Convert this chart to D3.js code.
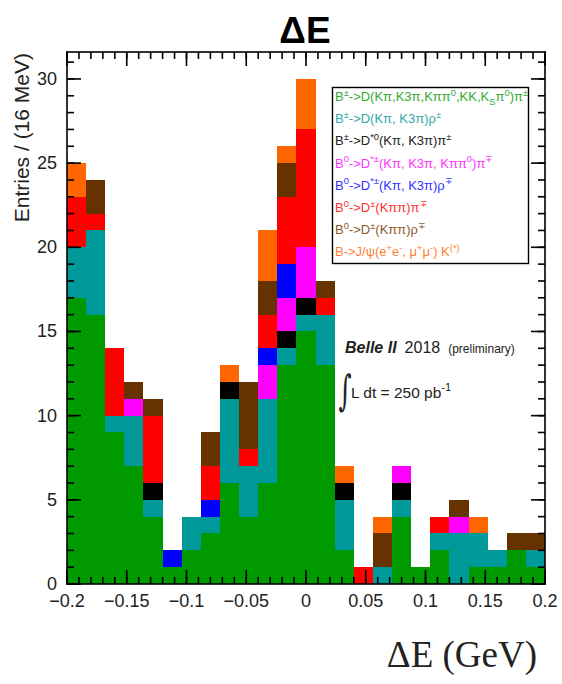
<!DOCTYPE html>
<html>
<head>
<meta charset="utf-8">
<script src="https://cdn.jsdelivr.net/npm/d3@7"></script>
<style>
  body { margin: 0; background: #fff; }
  svg { display: block; }
</style>
</head>
<body>
<svg id="chart"></svg>
<script>
// delta E stacked histogram

// bins: 25 bins of 16 MeV from -0.2 to 0.2 GeV
const binEdges = [-0.2, -0.184, -0.168, -0.152, -0.136, -0.12, -0.104, -0.088, -0.072, -0.056, -0.04, -0.024, -0.008,
    0.008, 0.024, 0.04, 0.056, 0.072, 0.088, 0.104, 0.12, 0.136, 0.152, 0.168, 0.184, 0.2];

// entries per bin, one array per channel (bottom of stack first)
const dKpi     = [17,16, 9, 7, 4, 1, 2, 3, 6, 4, 6,13,15,13, 2, 0, 0, 4, 1, 2, 0, 1, 1, 2, 1];
const dRho     = [ 3, 5, 1, 3, 1, 0, 2, 1, 5, 3, 5, 1, 1, 3, 3, 0, 1, 1, 0, 1, 3, 2, 1, 0, 1];
const dstar0Pi = [ 0, 0, 0, 0, 1, 0, 0, 0, 1, 0, 0, 1, 1, 0, 1, 0, 0, 1, 0, 0, 0, 0, 0, 0, 0];
const dstarPi  = [ 0, 0, 0, 1, 0, 0, 0, 0, 0, 0, 2, 2, 3, 0, 0, 0, 0, 1, 0, 0, 1, 0, 0, 0, 0];
const dstarRho = [ 0, 0, 0, 0, 0, 1, 0, 1, 0, 0, 1, 2, 0, 0, 0, 0, 0, 0, 0, 0, 0, 0, 0, 0, 0];
const dPi      = [ 3, 1, 4, 0, 4, 0, 0, 2, 0, 1, 2, 4, 7, 1, 0, 1, 0, 0, 0, 1, 0, 0, 0, 0, 0];
const dRho0    = [ 0, 2, 0, 1, 1, 0, 0, 2, 0, 4, 2, 2, 0, 1, 0, 0, 2, 0, 0, 0, 1, 0, 0, 1, 1];
const jpsiK    = [ 2, 0, 0, 0, 0, 0, 0, 0, 1, 0, 3, 1, 3, 0, 1, 0, 1, 0, 0, 0, 0, 1, 0, 0, 0];

const seriesKeys = ['dKpi','dRho','dstar0Pi','dstarPi','dstarRho','dPi','dRho0','jpsiK'];
const seriesValues = [dKpi, dRho, dstar0Pi, dstarPi, dstarRho, dPi, dRho0, jpsiK];

// legend labels, ROOT latex style
const legendLabels = [
    'B^{±}->D(Kπ,K3π,Kππ^{0},KK,K_{S}π^{0})π^{±}',
    'B^{±}->D(Kπ, K3π)ρ^{±}',
    'B^{±}->D^{*0}(Kπ, K3π)π^{±}',
    'B^{0}->D^{*±}(Kπ, K3π, Kππ^{0})π^{∓}',
    'B^{0}->D^{*±}(Kπ, K3π)ρ^{∓}',
    'B^{0}->D^{±}(Kππ)π^{∓}',
    'B^{0}->D^{±}(Kππ)ρ^{∓}',
    'B->J/ψ(e^{+}e^{-}, μ^{+}μ^{-}) K^{(*)}'
];

const fillColors = ['#009900','#009999','#000000','#ff00ff','#0000ff','#ff0000','#663300','#ff6600'];
const textColors = ['#33aa33','#33a8a8','#222222','#ff33ff','#3333ff','#ff3333','#8a5a2e','#ff7f33'];

const yTicks = [0, 5, 10, 15, 20, 25, 30];
const xTicks = [-0.2, -0.15, -0.1, -0.05, 0, 0.05, 0.1, 0.15, 0.2];

const W = 562, H = 684;
const padL = 67, padR = 545, padT = 52, padB = 584;
const sans = '"Liberation Sans", Arial, sans-serif';

var svg = d3.select('#chart').attr('width', W).attr('height', H)
    .style('font-family', sans);

var x = d3.scaleLinear().domain([-0.2, 0.2]).range([padL, padR]);
var y = d3.scaleLinear().domain([0, 31.6]).range([padB, padT]);

// build table for stack
let table = binEdges.slice(0, -1).map((e, i) => {
    let row = {x0: e, x1: binEdges[i + 1]};
    seriesKeys.forEach((k, j) => row[k] = seriesValues[j][i]);
    return row;
});
let stacked = d3.stack().keys(seriesKeys)(table);

svg.append('g')
    .selectAll('g')
    .data(stacked)
    .enter().append('g')
    .attr('fill', (d, i) => fillColors[i])
    .selectAll('rect')
    .data(d => d.filter(p => p[1] > p[0]))
    .enter().append('rect')
    .attr('shape-rendering', 'crispEdges')
    .attr('x', d => x(d.data.x0))
    .attr('width', d => x(d.data.x1) - x(d.data.x0))
    .attr('y', d => y(d[1]))
    .attr('height', d => y(d[0]) - y(d[1]));

// ticks inside on all four sides, as thin filled rects
const majorLen = 14, minorLen = 7, lw = 1.6;
let xMinor = d3.range(-20, 21).map(v => v / 100);
let yMinor = d3.range(0, 32);

let tk = svg.append('g').attr('fill', '#000');
function xTickMarks(vals, len) {
    tk.append('g').selectAll('rect').data(vals).enter().append('rect')
        .attr('x', d => x(d) - lw / 2).attr('width', lw)
        .attr('y', padB - len).attr('height', len);
    tk.append('g').selectAll('rect').data(vals).enter().append('rect')
        .attr('x', d => x(d) - lw / 2).attr('width', lw)
        .attr('y', padT).attr('height', len);
}
function yTickMarks(vals, len) {
    tk.append('g').selectAll('rect').data(vals).enter().append('rect')
        .attr('y', d => y(d) - lw / 2).attr('height', lw)
        .attr('x', padL).attr('width', len);
    tk.append('g').selectAll('rect').data(vals).enter().append('rect')
        .attr('y', d => y(d) - lw / 2).attr('height', lw)
        .attr('x', padR - len).attr('width', len);
}
xTickMarks(xMinor, minorLen);
xTickMarks(xTicks, majorLen);
yTickMarks(yMinor, minorLen);
yTickMarks(yTicks, majorLen);

// frame edges
let edges = [
    [padL - lw / 2, padT - lw / 2, padR - padL + lw, lw],
    [padL - lw / 2, padB - lw / 2, padR - padL + lw, lw],
    [padL - lw / 2, padT - lw / 2, lw, padB - padT + lw],
    [padR - lw / 2, padT - lw / 2, lw, padB - padT + lw]
];
tk.append('g').selectAll('rect').data(edges).enter().append('rect')
    .attr('x', d => d[0]).attr('y', d => d[1])
    .attr('width', d => d[2]).attr('height', d => d[3]);

// tick labels
let fmtX = v => v === 0 ? '0' : d3.format('')(v);
svg.append('g').selectAll('text').data(xTicks).enter().append('text')
    .attr('x', d => x(d)).attr('y', padB + 23)
    .attr('text-anchor', 'middle')
    .style('font-size', '18px').attr('fill', '#222')
    .text(fmtX);
svg.append('g').selectAll('text').data(yTicks).enter().append('text')
    .attr('x', padL - 10).attr('y', d => y(d) + 6)
    .attr('text-anchor', 'end')
    .style('font-size', '18px').attr('fill', '#222')
    .text(d => d);

// titles
svg.append('text')
    .attr('x', 305).attr('y', 43)
    .attr('text-anchor', 'middle')
    .style('font-size', '37px').style('font-weight', 'bold')
    .text('ΔE');

svg.append('text')
    .attr('transform', 'translate(29,53) rotate(-90)')
    .attr('text-anchor', 'end')
    .style('font-size', '21px').attr('fill', '#222')
    .text('Entries / (16 MeV)');

svg.append('text')
    .attr('x', 537).attr('y', 667)
    .attr('text-anchor', 'end')
    .style('font-family', '"Liberation Serif", "Times New Roman", serif')
    .style('font-size', '37px').attr('fill', '#222')
    .text('ΔE (GeV)');

// tiny latex: ^{..} and _{..}
function latex(textSel, str, size) {
    let re = /([\^_])\{([^}]*)\}|([^\^_]+)/g, m, shift = 0;
    while ((m = re.exec(str)) !== null) {
        let t = textSel.append('tspan');
        let target = 0, fs = size, s;
        if (m[3] !== undefined) { s = m[3]; }
        else { s = m[2]; target = m[1] === '^' ? -0.42 * size : 0.3 * size; fs = size * 0.72; }
        t.attr('dy', target - shift).style('font-size', fs + 'px').text(s);
        shift = target;
    }
}

// legend box
let lg = svg.append('g');
lg.append('rect')
    .attr('x', 332.5).attr('y', 87.5).attr('width', 196).attr('height', 176)
    .attr('fill', '#fff').attr('stroke', '#000').attr('stroke-width', 1.4);
legendLabels.forEach((lab, i) => {
    let t = lg.append('text')
        .attr('x', 335).attr('y', 101 + i * 22.2)
        .attr('fill', textColors[i]);
    latex(t, lab, 13);
});

// Belle II label
let bl = svg.append('text').attr('x', 345).attr('y', 353).attr('fill', '#222');
bl.append('tspan').style('font-size', '16px').style('font-weight', 'bold').style('font-style', 'italic').text('Belle II');
bl.append('tspan').style('font-size', '16px').attr('dx', 8).text('2018');
bl.append('tspan').style('font-size', '12px').attr('dx', 8).text('(preliminary)');

svg.append('text')
    .attr('transform', 'translate(345,405) scale(0.6,1)')
    .attr('text-anchor', 'middle')
    .style('font-family', '"DejaVu Serif", serif')
    .style('font-size', '42px').attr('fill', '#222')
    .text('∫');
let lum = svg.append('text').attr('x', 351).attr('y', 398).attr('fill', '#222');
latex(lum, 'L dt = 250 pb^{-1}', 15.5);
</script>
</body>
</html>
